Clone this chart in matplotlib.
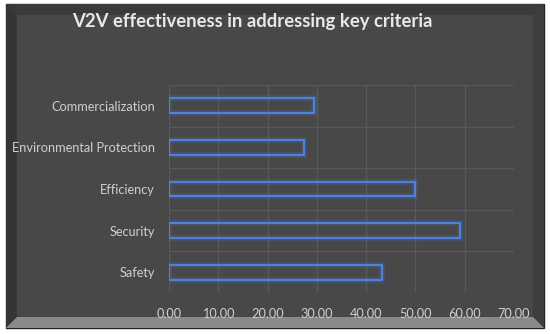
import matplotlib.pyplot as plt
from matplotlib.patches import Polygon, Rectangle

# data
categories = ["Safety", "Security", "Efficiency", "Environmental Protection", "Commercialization"]
values = [43.2, 59.0, 50.0, 27.3, 29.4]
xticks = [0, 10, 20, 30, 40, 50, 60, 70]

bg = "#484848"
W, H = 550, 334

fig = plt.figure(figsize=(5.5, 3.34), dpi=100)
fig.patch.set_facecolor("white")

def fx(px):
    return px / W

def fy(py):
    return 1 - py / H

# panel with bevel edges (kept behind the axes)
x0, x1, y0, y1, b = 6, 544, 4, 328, 11
fig.add_artist(Rectangle((fx(x0), fy(y1)), fx(x1 - x0), (y1 - y0) / H,
                         transform=fig.transFigure, facecolor=bg, edgecolor="#222222", lw=1, zorder=-5))
sides = [
    ([(x0, y0), (x1, y0), (x1 - b, y0 + b), (x0 + b, y0 + b)], "#3a3a3a"),   # top
    ([(x0, y0), (x0 + b, y0 + b), (x0 + b, y1 - b), (x0, y1)], "#353535"),   # left
    ([(x1, y0), (x1, y1), (x1 - b, y1 - b), (x1 - b, y0 + b)], "#3e3e3e"),   # right
    ([(x0, y1), (x0 + b, y1 - b), (x1 - b, y1 - b), (x1, y1)], "#8a8a8a"),   # bottom
]
for pts, c in sides:
    fig.add_artist(Polygon([(fx(a), fy(c2)) for a, c2 in pts], closed=True,
                           transform=fig.transFigure, facecolor=c, edgecolor="none", zorder=-4))

ax = fig.add_axes([fx(169), fy(293), fx(514 - 169), (293 - 85) / H])
ax.set_facecolor(bg)
ax.patch.set_alpha(0)

ypos = list(range(len(categories)))
# glow
ax.barh(ypos, values, height=0.36, facecolor="none", edgecolor="#4472c4", linewidth=4, alpha=0.3, zorder=3)
ax.barh(ypos, values, height=0.36, facecolor="none", edgecolor="#4f86e8", linewidth=1.3, zorder=4)

ax.set_xlim(0, 70)
ax.set_ylim(-0.5, len(categories) - 0.5)
ax.set_xticks(xticks)
ax.set_xticklabels(["%.2f" % t for t in xticks])
ax.set_yticks(ypos)
ax.set_yticklabels(categories)
ax.set_yticks([i - 0.5 for i in range(len(categories) + 1)], minor=True)

ax.grid(axis="x", color="#595959", linewidth=0.9, zorder=0)
ax.grid(axis="y", which="minor", color="#595959", linewidth=0.9, zorder=0)
ax.tick_params(axis="both", which="both", length=0, colors="#cfcfcf", labelsize=9.2)
ax.tick_params(axis="x", pad=11)
ax.tick_params(axis="y", pad=10)
for s in ax.spines.values():
    s.set_visible(False)
for lab in ax.get_xticklabels() + ax.get_yticklabels():
    lab.set_fontfamily("Lato")

fig.text(fx(252), fy(21), "V2V effectiveness in addressing key criteria", ha="center", va="center",
         color="#e8e8e8", fontsize=13.3, fontweight="bold", fontfamily="Lato")

fig.savefig("out.png", dpi=100, facecolor=fig.get_facecolor())
